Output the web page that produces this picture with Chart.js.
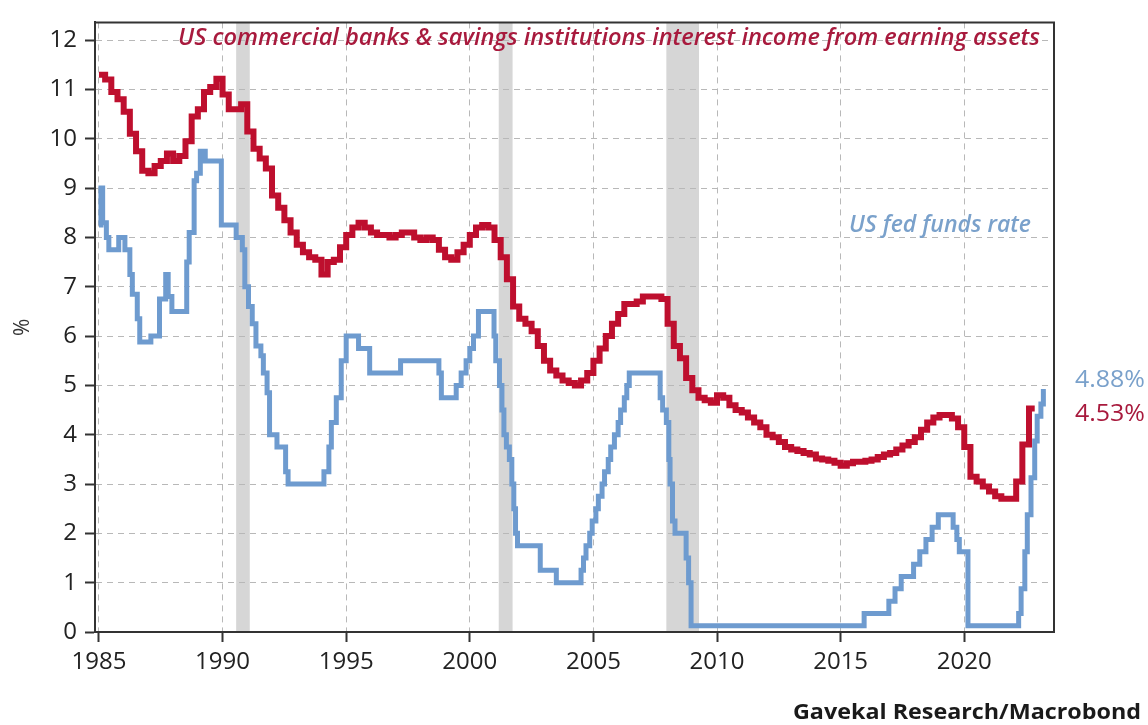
<!DOCTYPE html>
<html>
<head>
<meta charset="utf-8">
<script src="https://cdn.jsdelivr.net/npm/chart.js@4"></script>
<style>
  html, body { margin: 0; padding: 0; background: #fff; }
  canvas { display: block; }
</style>
</head>
<body>
<canvas id="chart" width="1148" height="725"></canvas>
<script>
// ---- data ----
// interest income from earning assets, %, quarterly steps
const redYears = [
  1985.0, 1985.25, 1985.5, 1985.75, 1986.0, 1986.25, 1986.5, 1986.75,
  1987.0, 1987.25, 1987.5, 1987.75, 1988.0, 1988.25, 1988.5, 1988.75,
  1989.0, 1989.25, 1989.5, 1989.75, 1990.0, 1990.25, 1990.5, 1990.75,
  1991.0, 1991.25, 1991.5, 1991.75, 1992.0, 1992.25, 1992.5, 1992.75,
  1993.0, 1993.25, 1993.5, 1993.75, 1994.0, 1994.25, 1994.5, 1994.75,
  1995.0, 1995.25, 1995.5, 1995.75, 1996.0, 1996.25, 1996.5, 1996.75,
  1997.0, 1997.25, 1997.5, 1997.75, 1998.0, 1998.25, 1998.5, 1998.75,
  1999.0, 1999.25, 1999.5, 1999.75, 2000.0, 2000.25, 2000.5, 2000.75,
  2001.0, 2001.25, 2001.5, 2001.75, 2002.0, 2002.25, 2002.5, 2002.75,
  2003.0, 2003.25, 2003.5, 2003.75, 2004.0, 2004.25, 2004.5, 2004.75,
  2005.0, 2005.25, 2005.5, 2005.75, 2006.0, 2006.25, 2006.5, 2006.75,
  2007.0, 2007.25, 2007.5, 2007.75, 2008.0, 2008.25, 2008.5, 2008.75,
  2009.0, 2009.25, 2009.5, 2009.75, 2010.0, 2010.25, 2010.5, 2010.75,
  2011.0, 2011.25, 2011.5, 2011.75, 2012.0, 2012.25, 2012.5, 2012.75,
  2013.0, 2013.25, 2013.5, 2013.75, 2014.0, 2014.25, 2014.5, 2014.75,
  2015.0, 2015.25, 2015.5, 2015.75, 2016.0, 2016.25, 2016.5, 2016.75,
  2017.0, 2017.25, 2017.5, 2017.75, 2018.0, 2018.25, 2018.5, 2018.75,
  2019.0, 2019.25, 2019.5, 2019.75, 2020.0, 2020.25, 2020.5, 2020.75,
  2021.0, 2021.25, 2021.5, 2021.75, 2022.0, 2022.1, 2022.35, 2022.62, 2022.85
];
const redValues = [
  11.3, 11.2, 10.95, 10.8, 10.55, 10.1, 9.75, 9.35,
  9.3, 9.45, 9.55, 9.7, 9.55, 9.65, 9.95, 10.45,
  10.6, 10.95, 11.05, 11.22, 10.9, 10.6, 10.6, 10.7,
  10.15, 9.8, 9.6, 9.4, 8.85, 8.6, 8.35, 8.1,
  7.85, 7.7, 7.6, 7.55, 7.25, 7.5, 7.55, 7.8,
  8.05, 8.2, 8.3, 8.2, 8.1, 8.05, 8.05, 8.0,
  8.05, 8.1, 8.1, 8.0, 7.95, 8.0, 7.95, 7.75,
  7.6, 7.55, 7.7, 7.85, 8.05, 8.2, 8.25, 8.2,
  7.95, 7.6, 7.15, 6.6, 6.35, 6.25, 6.1, 5.8,
  5.5, 5.3, 5.2, 5.1, 5.05, 5.0, 5.1, 5.25,
  5.5, 5.75, 6.0, 6.25, 6.45, 6.65, 6.65, 6.7,
  6.8, 6.8, 6.8, 6.75, 6.25, 5.8, 5.55, 5.15,
  4.9, 4.75, 4.7, 4.65, 4.8, 4.75, 4.6, 4.5,
  4.45, 4.35, 4.25, 4.15, 4.0, 3.95, 3.85, 3.75,
  3.7, 3.67, 3.63, 3.6, 3.52, 3.5, 3.47, 3.43,
  3.37, 3.42, 3.45, 3.45, 3.47, 3.5, 3.55, 3.6,
  3.63, 3.7, 3.78, 3.85, 3.95, 4.1, 4.25, 4.35,
  4.4, 4.4, 4.33, 4.15, 3.75, 3.15, 3.05, 2.95,
  2.85, 2.75, 2.7, 2.7, 2.7, 3.05, 3.8, 4.53, 4.53
];

// fed funds target, %, change points
const blueYears = [
  1985.0, 1985.08, 1985.15, 1985.3, 1985.4, 1985.8, 1986.05, 1986.25,
  1986.35, 1986.55, 1986.65, 1987.1, 1987.45, 1987.7, 1987.8, 1987.95,
  1988.55, 1988.65, 1988.85, 1988.95, 1989.1, 1989.3, 1989.95, 1990.55,
  1990.8, 1990.9, 1991.05, 1991.2, 1991.35, 1991.55, 1991.65, 1991.8,
  1991.9, 1992.2, 1992.55, 1992.65, 1994.1, 1994.3, 1994.4, 1994.6,
  1994.8, 1995.0, 1995.5, 1995.95, 1997.2, 1998.75, 1998.85, 1999.45,
  1999.65, 1999.85, 2000.0, 2000.15, 2000.35, 2000.98, 2001.05, 2001.2,
  2001.3, 2001.38, 2001.48, 2001.6, 2001.7, 2001.78, 2001.85, 2001.93,
  2002.85, 2003.5, 2004.5, 2004.6, 2004.7, 2004.85, 2004.95, 2005.1,
  2005.2, 2005.35, 2005.45, 2005.6, 2005.7, 2005.85, 2006.0, 2006.1,
  2006.25, 2006.35, 2006.45, 2007.7, 2007.8, 2007.95, 2008.05, 2008.1,
  2008.2, 2008.3, 2008.75, 2008.85, 2008.95, 2015.95, 2016.95, 2017.2,
  2017.45, 2017.95, 2018.2, 2018.45, 2018.7, 2018.95, 2019.55, 2019.7,
  2019.8, 2020.15, 2022.2, 2022.3, 2022.45, 2022.55, 2022.7, 2022.85,
  2022.95, 2023.1, 2023.2, 2023.3
];
const blueValues = [
  8.25, 9.0, 8.3, 8.0, 7.75, 8.0, 7.75, 7.25,
  6.85, 6.35, 5.88, 6.0, 6.75, 7.25, 6.8, 6.5,
  7.5, 8.1, 9.15, 9.3, 9.75, 9.55, 8.25, 8.0,
  7.75, 7.0, 6.6, 6.25, 5.8, 5.6, 5.25, 4.85,
  4.0, 3.75, 3.25, 3.0, 3.25, 3.75, 4.25, 4.75,
  5.5, 6.0, 5.75, 5.25, 5.5, 5.25, 4.75, 5.0,
  5.25, 5.5, 5.75, 6.0, 6.5, 6.0, 5.5, 5.0,
  4.5, 4.0, 3.75, 3.5, 3.0, 2.5, 2.0, 1.75,
  1.25, 1.0, 1.25, 1.5, 1.75, 2.0, 2.25, 2.5,
  2.75, 3.0, 3.25, 3.5, 3.75, 4.0, 4.25, 4.5,
  4.75, 5.0, 5.25, 4.75, 4.5, 4.25, 3.5, 3.0,
  2.25, 2.0, 1.5, 1.0, 0.125, 0.375, 0.625, 0.875,
  1.125, 1.375, 1.625, 1.875, 2.125, 2.375, 2.125, 1.875,
  1.625, 0.125, 0.375, 0.875, 1.625, 2.375, 3.125, 3.875,
  4.375, 4.625, 4.875, 4.875
];

// shaded recessions [start, end]
const recessions = [[1990.55, 1991.1], [2001.17, 2001.73], [2007.95, 2009.27]];

const xTicks = [1985, 1990, 1995, 2000, 2005, 2010, 2015, 2020];
const yTicks = [0, 1, 2, 3, 4, 5, 6, 7, 8, 9, 10, 11, 12];

const RED = '#be0f2e';
const BLUE = '#6e9bcf';
const RED_TXT = '#a81a3d';
const BLUE_TXT = '#7aa1cb';

const toPoints = (xs, ys) => xs.map((x, i) => ({x: x, y: ys[i]}));

// draw text squeezed/stretched to a given width
function fitText(ctx, text, x, y, w, font, color) {
  ctx.save();
  ctx.font = font;
  ctx.fillStyle = color;
  ctx.textAlign = 'left';
  ctx.textBaseline = 'alphabetic';
  const m = ctx.measureText(text).width;
  ctx.translate(x, y);
  ctx.scale(w / m, 1);
  ctx.fillText(text, 0, 0);
  ctx.restore();
}

const decor = {
  id: 'decor',
  beforeDraw(chart) {
    const {ctx, chartArea: a, scales: {x}} = chart;
    ctx.save();
    ctx.fillStyle = '#d6d6d6';
    recessions.forEach(([s, e]) => {
      const x1 = x.getPixelForValue(s), x2 = x.getPixelForValue(e);
      ctx.fillRect(x1, a.top, x2 - x1, a.bottom - a.top);
    });
    ctx.restore();
  },
  afterDraw(chart) {
    const {ctx, chartArea: a} = chart;
    // top / right frame
    ctx.save();
    ctx.strokeStyle = '#333';
    ctx.lineWidth = 2;
    ctx.beginPath();
    ctx.moveTo(a.left, a.top);
    ctx.lineTo(a.right, a.top);
    ctx.lineTo(a.right, a.bottom);
    ctx.stroke();
    ctx.restore();

    fitText(ctx, 'US commercial banks & savings institutions interest income from earning assets',
      178, 45, 862, 'italic 600 24px "Open Sans"', RED_TXT);
    fitText(ctx, 'US fed funds rate', 849, 232, 182, 'italic 600 24px "Open Sans"', BLUE_TXT);
    fitText(ctx, '4.88%', 1075, 387, 70, '23px "Open Sans"', BLUE_TXT);
    fitText(ctx, '4.53%', 1075, 421, 70, '23px "Open Sans"', RED_TXT);
    fitText(ctx, 'Gavekal Research/Macrobond', 793, 719, 348, 'bold 22px "Open Sans"', '#1a1a1a');
  }
};

new Chart(document.getElementById('chart'), {
  type: 'line',
  data: {
    datasets: [
      {
        label: 'US commercial banks & savings institutions interest income from earning assets',
        data: toPoints(redYears, redValues),
        borderColor: RED,
        borderWidth: 6,
        stepped: true,
        pointRadius: 0,
        fill: false
      },
      {
        label: 'US fed funds rate',
        data: toPoints(blueYears, blueValues),
        borderColor: BLUE,
        borderWidth: 5,
        stepped: true,
        pointRadius: 0,
        fill: false
      }
    ]
  },
  options: {
    responsive: false,
    animation: false,
    devicePixelRatio: 1,
    layout: {padding: {top: 15, right: 94, bottom: 48, left: 0}},
    plugins: {
      legend: {display: false},
      tooltip: {enabled: false}
    },
    scales: {
      x: {
        type: 'linear',
        min: 1984.84,
        max: 2023.63,
        afterBuildTicks: s => { s.ticks = xTicks.map(v => ({value: v})); },
        afterFit: s => { s.height = 45; },
        ticks: {
          callback: v => String(v),
          color: '#222',
          padding: 6,
          maxRotation: 0,
          autoSkip: false,
          font: {family: "'Open Sans'", size: 24}
        },
        grid: {color: '#b8b8b8', lineWidth: 1, tickLength: 10, tickColor: '#333', tickWidth: 2},
        border: {color: '#333', width: 2, dash: [6, 5]}
      },
      y: {
        min: 0,
        max: 12.36,
        afterBuildTicks: s => { s.ticks = yTicks.map(v => ({value: v})); },
        afterFit: s => { s.width = 95; },
        title: {display: true, text: '%', color: '#333', padding: {top: 10, bottom: 0}, font: {family: "'Open Sans'", size: 21}},
        ticks: {
          color: '#222',
          padding: 8,
          font: {family: "'Open Sans'", size: 24}
        },
        grid: {color: '#b8b8b8', lineWidth: 1, tickLength: 10, tickColor: '#333', tickWidth: 2},
        border: {color: '#333', width: 2, dash: [6, 5]}
      }
    }
  },
  plugins: [decor]
});
</script>
</body>
</html>
